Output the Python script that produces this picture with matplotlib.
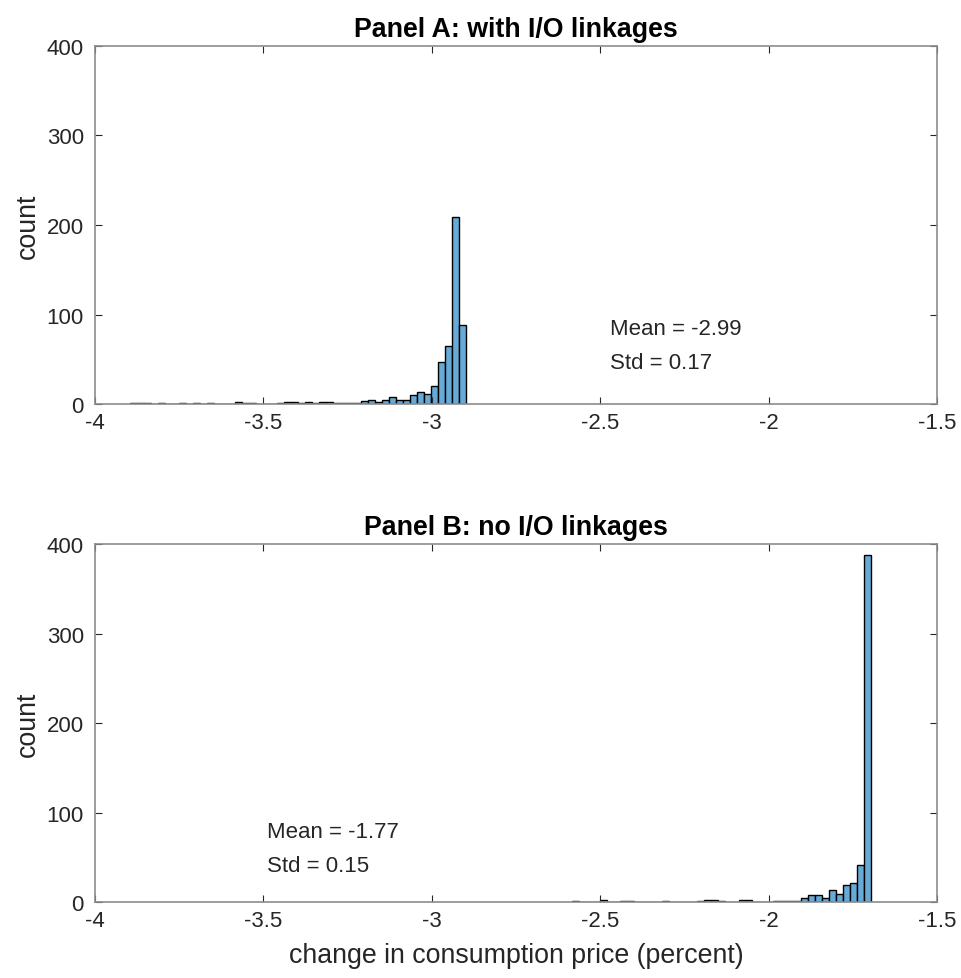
import numpy as np
import matplotlib
matplotlib.use("Agg")
import matplotlib.pyplot as plt

plt.rcParams['font.family'] = ['Liberation Sans', 'DejaVu Sans']

# Panel A: histogram counts (bins from low to high)
a_lo, a_hi = -3.896, -2.898
a_counts = [1, 1, 1, 0, 1, 0, 0, 1, 0, 1, 0, 1, 0, 0, 0, 2,
            1, 1, 0, 0, 0, 1, 2, 2, 1, 2, 1, 2, 2, 1, 1, 1,
            1, 3, 5, 2, 4, 8, 5, 4, 10, 13, 11, 20, 47, 65, 209, 88]
a_stats = ["Mean = -2.99", "Std = 0.17"]

# Panel B
b_lo, b_hi = -2.584, -1.697
b_counts = [1, 0, 0, 0, 2, 0, 0, 1, 1, 0, 0, 0, 0, 1, 0, 0, 0, 0, 1, 2, 2, 1,
            0, 0, 2, 2, 0, 0, 0, 1, 1, 1, 1, 4, 8, 8, 5, 13, 9, 19, 21, 41, 388]
b_stats = ["Mean = -1.77", "Std = 0.15"]

titles = ["Panel A: with I/O linkages", "Panel B: no I/O linkages"]
xticks = [-4, -3.5, -3, -2.5, -2, -1.5]
xticklabels = ["-4", "-3.5", "-3", "-2.5", "-2", "-1.5"]
yticks = [0, 100, 200, 300, 400]

face = (0.4, 0.668, 0.845)
axcol = '#262626'
fs_tick = 16
fs_lab = 19.3

fig = plt.figure(figsize=(9.61, 9.79), dpi=100)
axA = fig.add_axes([0.0989, 0.5863, 0.876, 0.3657])
axB = fig.add_axes([0.0989, 0.0776, 0.876, 0.3657])


def draw(ax, lo, hi, counts, stats, stat_xy, title):
    edges = np.linspace(lo, hi, len(counts) + 1)
    ax.bar(edges[:-1], counts, width=np.diff(edges), align='edge',
           color=face, edgecolor='black', linewidth=1.0)
    ax.set_xlim(-4, -1.5)
    ax.set_ylim(0, 400)
    ax.set_xticks(xticks)
    ax.set_xticklabels(xticklabels)
    ax.set_yticks(yticks)
    ax.tick_params(direction='in', top=True, right=True, labelsize=fs_tick,
                   colors=axcol, length=5, width=0.8)
    ax.tick_params(axis='x', pad=6)
    ax.tick_params(axis='y', pad=8)
    for s in ax.spines.values():
        s.set_color('#8c8c8c')
        s.set_linewidth(1.2)
    ax.set_ylabel("count", fontsize=fs_lab, color=axcol, labelpad=4)
    ax.set_title(title, fontsize=fs_lab, fontweight='bold', color='black', pad=7)
    x, y = stat_xy
    ax.text(x, y, stats[0], fontsize=fs_tick, color=axcol, va='center')
    ax.text(x, y - 38, stats[1], fontsize=fs_tick, color=axcol, va='center')


draw(axA, a_lo, a_hi, a_counts, a_stats, (-2.47, 84), titles[0])
draw(axB, b_lo, b_hi, b_counts, b_stats, (-3.49, 79), titles[1])
axB.set_xlabel("change in consumption price (percent)", fontsize=fs_lab,
               color=axcol, labelpad=8)

fig.savefig("out.png", dpi=100)
